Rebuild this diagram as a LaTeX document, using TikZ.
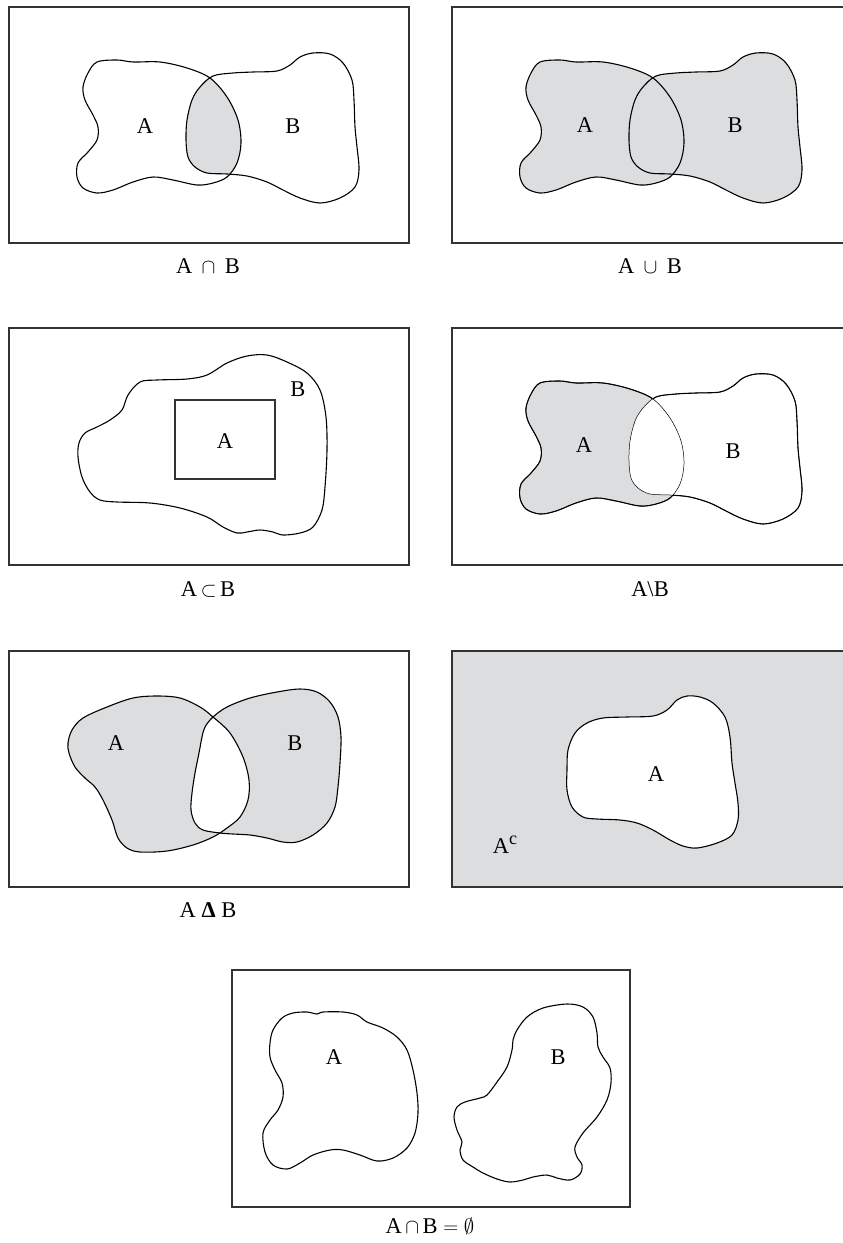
\documentclass[tikz,border=0pt]{standalone}
\usepackage{fontspec}
\setmainfont{Liberation Serif}
\definecolor{venngray}{RGB}{220,221,223}
\tikzset{
  frame/.style={draw=black!80, line width=1.1pt},
  blob/.style={draw=black, line width=1.1pt},
  thinblob/.style={draw=black, line width=0.5pt},
  lbl/.style={font=\fontsize{22.5}{26}\selectfont, inner sep=0pt},
}
\def\blobA{plot[smooth cycle, tension=0.55] coordinates {(97,62) (117,60) (133,62) (160,62) (187,68) (210,78) (227,97) (238,120) (241,143) (237,163) (227,177) (213,183) (197,185) (173,180) (153,177) (133,182) (113,190) (97,193) (83,188) (77,177) (78,163) (88,152) (97,140) (98,127) (93,115) (85,100) (83,87) (88,73)}}
\def\blobB{plot[smooth cycle, tension=0.55] coordinates {(213,76) (233,73) (253,72) (277,71) (290,65) (300,57) (313,53) (330,54) (343,63) (352,80) (354,100) (355,127) (357,147) (359,170) (355,187) (340,198) (320,203) (300,198) (283,190) (267,182) (247,176) (227,174) (207,173) (195,167) (188,157) (186,140) (187,120) (192,100) (200,87)}}
\def\blobC{plot[smooth cycle, tension=0.55] coordinates {(128,395) (140,382) (157,380) (187,379) (207,375) (227,363) (247,356) (267,355) (287,362) (307,373) (320,390) (326,417) (327,450) (325,487) (322,510) (313,527) (300,533) (283,535) (273,532) (260,530) (247,532) (237,533) (223,527) (207,517) (180,508) (150,503) (117,502) (100,500) (90,492) (82,477) (78,457) (79,443) (85,433) (97,427) (110,420) (122,410)}}
\def\blobD{plot[smooth cycle, tension=0.55] coordinates {(68,743) (72,730) (83,718) (107,707) (133,698) (157,696) (180,698) (200,707) (213,717) (230,733) (243,757) (249,780) (248,800) (240,817) (227,828) (213,837) (193,845) (167,851) (140,852) (127,848) (118,838) (112,820) (103,800) (95,787) (85,778) (75,767) (69,753)}}
\def\blobE{plot[smooth cycle, tension=0.55] coordinates {(213,717) (227,707) (250,698) (277,692) (300,689) (317,692) (330,702) (338,717) (341,737) (340,763) (338,787) (335,807) (327,823) (313,835) (297,842) (283,842) (267,838) (250,835) (233,834) (220,833) (203,830) (195,823) (191,810) (192,793) (195,773) (199,753) (202,737) (205,727)}}
\def\blobF{plot[smooth cycle, tension=0.55] coordinates {(567,770) (568,750) (575,733) (587,723) (603,718) (627,717) (653,716) (667,710) (677,700) (687,696) (700,697) (713,703) (725,717) (730,737) (732,763) (735,783) (738,803) (738,820) (732,835) (717,843) (697,848) (683,846) (670,840) (653,830) (637,823) (620,820) (597,819) (583,817) (572,807) (567,790)}}
\def\blobG{plot[smooth cycle, tension=0.55] coordinates {(270,1043) (273,1030) (282,1018) (293,1013) (307,1012) (317,1014) (323,1012) (343,1012) (357,1015) (367,1022) (383,1028) (397,1037) (407,1050) (413,1070) (417,1093) (418,1113) (415,1133) (407,1148) (393,1158) (377,1161) (360,1155) (343,1150) (330,1150) (313,1155) (300,1163) (287,1169) (273,1165) (265,1152) (263,1133) (270,1120) (278,1110) (283,1097) (282,1083) (275,1070) (270,1057)}}
\def\blobH{plot[smooth cycle, tension=0.55] coordinates {(513,1040) (517,1030) (527,1017) (543,1008) (567,1004) (583,1007) (593,1017) (597,1033) (598,1047) (603,1057) (610,1068) (611,1083) (607,1100) (597,1117) (583,1133) (575,1147) (577,1157) (582,1165) (580,1174) (570,1180) (557,1178) (547,1175) (533,1177) (523,1180) (510,1182) (497,1179) (483,1173) (473,1167) (463,1160) (460,1150) (462,1142) (457,1130) (454,1117) (457,1107) (465,1102) (480,1098) (487,1095) (497,1082) (507,1067) (512,1050)}}
\begin{document}
\begin{tikzpicture}[x=1pt,y=-1pt]
\useasboundingbox (0,0) rectangle (843,1243);
% ---------- Panel 1: intersection
\begin{scope}
  \clip \blobA;
  \fill[venngray] \blobB;
\end{scope}
\draw[blob] \blobA;
\draw[blob] \blobB;
\draw[frame] (9,7) rectangle (409,243);
\node[lbl] (p1A) at (145,126) {A};
\node[lbl] (p1B) at (293,126) {B};
\node[lbl] (c1) at (208,266) {A \,$\cap$\, B};
% ---------- Panel 2: union
\begin{scope}[shift={(443,0)}]
  \fill[venngray] \blobA;
  \fill[venngray] \blobB;
  \draw[blob] \blobA;
  \draw[blob] \blobB;
\end{scope}
\draw[frame] (452,7) rectangle (846,243);
\node[lbl] (p2A) at (585,125) {A};
\node[lbl] (p2B) at (735,125) {B};
\node[lbl] (c2) at (650,266) {A \,$\cup$\, B};
% ---------- Panel 3: subset
\draw[blob] \blobC;
\draw[frame] (175,400) rectangle (275,479);
\draw[frame] (9,328) rectangle (409,565);
\node[lbl] (p3A) at (225,441) {A};
\node[lbl] (p3B) at (298,389) {B};
\node[lbl] (c3) at (208,589) {A$\,\subset\,$B};
% ---------- Panel 4: difference
\begin{scope}[shift={(443,321)}]
  \fill[venngray] \blobA;
  \begin{scope}
    \clip \blobA;
    \fill[white] \blobB;
  \end{scope}
  \draw[thinblob] \blobA;
  \draw[thinblob] \blobB;
  \begin{scope}[even odd rule]
    \clip (-500,-500) rectangle (900,900) \blobB;
    \draw[blob] \blobA;
  \end{scope}
  \begin{scope}[even odd rule]
    \clip (-500,-500) rectangle (900,900) \blobA;
    \draw[blob] \blobB;
  \end{scope}
\end{scope}
\draw[frame] (452,328) rectangle (846,565);
\node[lbl] (p4A) at (584,445) {A};
\node[lbl] (p4B) at (733,451) {B};
\node[lbl] (c4) at (650,589) {A\textbackslash B};
% ---------- Panel 5: symmetric difference
\fill[venngray, even odd rule] \blobD \blobE;
\draw[blob] \blobD;
\draw[blob] \blobE;
\draw[frame] (9,651) rectangle (409,887);
\node[lbl] (p5A) at (116,743) {A};
\node[lbl] (p5B) at (295,743) {B};
\node[lbl] (c5) at (208,910) {A \textbf{Δ} B};
% ---------- Panel 6: complement
\fill[venngray] (452,651) rectangle (846,887);
\fill[white] \blobF;
\draw[blob] \blobF;
\draw[frame] (452,651) rectangle (846,887);
\node[lbl] (p6A) at (656,774) {A};
\node[lbl] (p6C) at (505,845) {A\raisebox{0.4em}{\fontsize{18}{20}\selectfont c}};
% ---------- Panel 7: disjoint
\draw[blob] \blobG;
\draw[blob] \blobH;
\draw[frame] (232,970) rectangle (630,1207);
\node[lbl] (p7A) at (334,1057) {A};
\node[lbl] (p7B) at (558,1057) {B};
\node[lbl] (c7) at (430,1226) {A$\,\cap\,$B $=$ $\emptyset$};
\end{tikzpicture}
\end{document}
